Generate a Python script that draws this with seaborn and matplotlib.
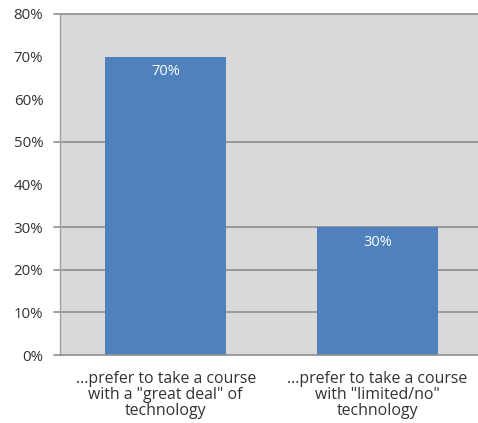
import matplotlib
matplotlib.use("Agg")
import matplotlib.pyplot as plt
import seaborn as sns
import pandas as pd

# Survey responses: share of students preferring each course style
categories = [
    '...prefer to take a course\nwith a "great deal" of\ntechnology',
    '...prefer to take a course\nwith "limited/no"\ntechnology',
]
shares = [70, 30]
value_labels = ["70%", "30%"]
y_ticks = [0, 10, 20, 30, 40, 50, 60, 70, 80]
y_tick_labels = ["0%", "10%", "20%", "30%", "40%", "50%", "60%", "70%", "80%"]
grid_levels = [10, 20, 30, 50, 80]

sns.set_style("white")
plt.rcParams["font.family"] = ["Open Sans", "DejaVu Sans"]

df = pd.DataFrame({"category": categories, "share": shares})

fig = plt.figure(figsize=(4.78, 4.23), dpi=100)
ax = fig.add_axes([60 / 478, 1 - 355 / 423, 423 / 478, 341 / 423])
ax.set_facecolor("#D9D9D9")

sns.barplot(data=df, x="category", y="share", color="#4F81BD",
            saturation=1, width=0.57, linewidth=0, ax=ax, zorder=3)

ax.set_xlim(-0.5, 1.5)
ax.set_ylim(0, 80)

grid_color = "#8E8E8E"
ext = -6 / 423
for lvl in grid_levels:
    ax.axhline(lvl, xmin=ext, xmax=1, color=grid_color, lw=1.2,
               clip_on=False, zorder=2)
ax.axhline(0, xmin=ext, xmax=1, color=grid_color, lw=1.2,
           clip_on=False, zorder=4)

for sp in ["top", "right", "bottom"]:
    ax.spines[sp].set_visible(False)
ax.spines["left"].set_color("#A0A0A0")
ax.spines["left"].set_linewidth(1.0)

ax.set_yticks(y_ticks)
ax.set_yticklabels(y_tick_labels, fontsize=10.8, color="#333333")
ax.tick_params(axis="y", length=0, pad=12)
ax.tick_params(axis="x", length=0, pad=11.5, labelsize=11.4, labelcolor="#333333")
for lab in ax.get_xticklabels():
    lab.set_linespacing(1.02)
ax.set_xticks([0.5], minor=True)
ax.tick_params(axis="x", which="minor", length=5, color=grid_color,
               direction="out", width=1)

for patch, text in zip(ax.patches, value_labels):
    cx = patch.get_x() + patch.get_width() / 2
    ax.annotate(text, (cx, patch.get_height()), xytext=(0, -11),
                textcoords="offset points", ha="center", va="center",
                color="white", fontsize=10.5, zorder=5)

ax.set_xlabel("")
ax.set_ylabel("")

fig.savefig("out.png", dpi=100)
